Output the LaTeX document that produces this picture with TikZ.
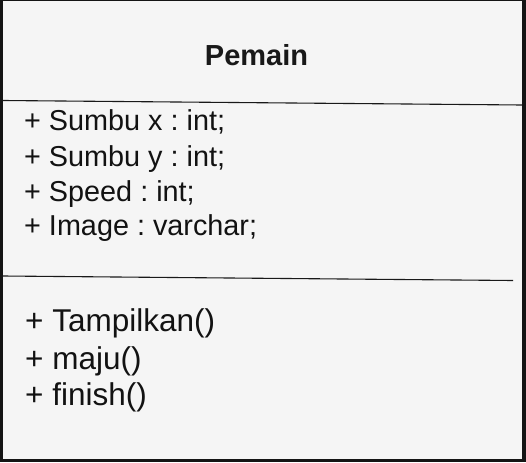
\documentclass[tikz,border=0pt]{standalone}
\usepackage{fontspec}
\setmainfont{Liberation Sans}
\frenchspacing
\begin{document}
\begin{tikzpicture}[x=1pt,y=-1pt,
  attr/.style={anchor=base west,inner sep=0pt,font=\fontsize{28.8}{34}\selectfont,text=black!93},
  meth/.style={anchor=base west,inner sep=0pt,font=\fontsize{31.5}{38}\selectfont,text=black!93},
  sep/.style={draw=black!90,line width=1.1pt}]
\useasboundingbox (0,0) rectangle (526,462);
\fill[black!92] (0,0) rectangle (526,462);
\fill[black!4] (2.7,1.2) rectangle (521.8,459.3);
\node[anchor=base,inner sep=0pt,font=\bfseries\fontsize{29}{34}\selectfont,text=black!90] (title) at (256.5,66) {Pemain};
\coordinate (l1a) at (2.7,100.5);
\coordinate (l1b) at (521.8,105);
\draw[sep] (l1a) -- (l1b);
\node[attr] (a1) at (24,131) {+ Sumbu x : int;};
\node[attr] (a2) at (24,166.5) {+ Sumbu y : int;};
\node[attr] (a3) at (24,201) {+ Speed : int;};
\node[attr] (a4) at (24,235) {+ Image : varchar;};
\coordinate (l2a) at (2.7,276);
\coordinate (l2b) at (513,280.5);
\draw[sep] (l2a) -- (l2b);
\node[meth] (m1) at (25,331.5) {+ Tampilkan()};
\node[meth] (m2) at (25,369) {+ maju()};
\node[meth] (m3) at (25,405.5) {+ finish()};
\end{tikzpicture}
\end{document}
